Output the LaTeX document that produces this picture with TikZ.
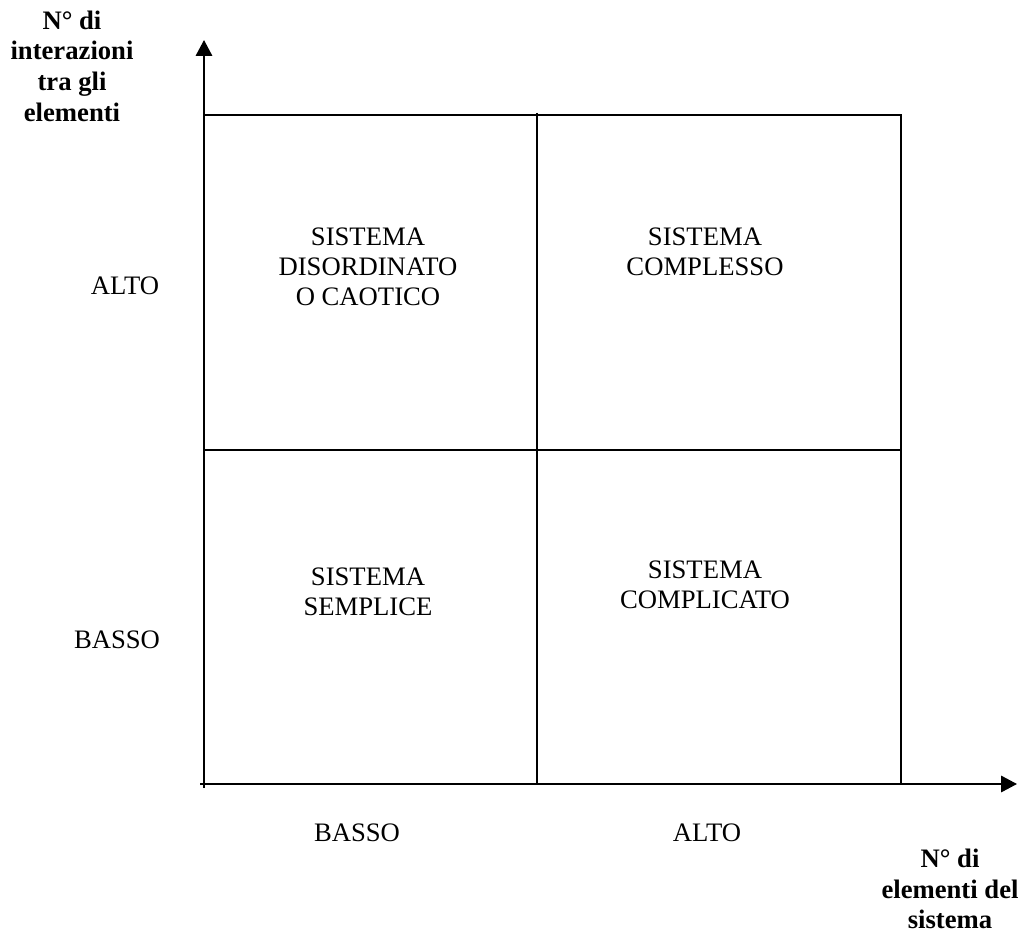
\documentclass[tikz,border=0pt]{standalone}
\usepackage{fontspec}
\setmainfont{Liberation Serif}
\usepackage{tikz}
\usetikzlibrary{arrows.meta,positioning}

\begin{document}
\begin{tikzpicture}[x=0.45pt, y=-0.45pt,
  lbl/.style={align=center, font=\fontsize{12}{13.6}\selectfont, inner sep=0pt},
  axtitle/.style={lbl, font=\fontsize{12}{13.8}\selectfont\bfseries},
  cell/.style={lbl},
  axis/.style={line width=0.9pt, -{Triangle[length=7.2pt, width=7.4pt]}},
  grid/.style={line width=0.9pt}]
\useasboundingbox (0,0) rectangle (1021,937);
% assi
\coordinate (o)  at (204,788);
\coordinate (yt) at (204,40);
\coordinate (xo) at (200,784);
\coordinate (xt) at (1017,784);
\draw[axis] (o) -- (yt);
\draw[axis] (xo) -- (xt);
% griglia
\coordinate (tl) at (204,115);
\coordinate (tm) at (537,113);
\coordinate (tr) at (901,115);
\coordinate (ml) at (204,450);
\coordinate (mr) at (901,450);
\coordinate (bm) at (537,784);
\coordinate (br) at (901,784);
\draw[grid] (tl) -- (tr) -- (br);
\draw[grid] (tm) -- (bm);
\draw[grid] (ml) -- (mr);
% titoli degli assi
\node[axtitle] (ytitle) at (72,66) {N° di\\interazioni\\tra gli\\elementi};
\node[axtitle] (xtitle) at (950,889) {N° di\\elementi del\\sistema};
% livelli
\node[lbl] (yalto)  at (125,286) {ALTO};
\node[lbl] (ybasso) at (117,640) {BASSO};
\node[lbl] (xbasso) at (357,833) {BASSO};
\node[lbl] (xalto)  at (707,833) {ALTO};
% quadranti
\node[cell] (caos)  at (368,267) {SISTEMA\\DISORDINATO\\O CAOTICO};
\node[cell] (compx) at (705,252) {SISTEMA\\COMPLESSO};
\node[cell] (semp)  at (368,592) {SISTEMA\\SEMPLICE};
\node[cell] (compl) at (705,585) {SISTEMA\\COMPLICATO};
\end{tikzpicture}
\end{document}
